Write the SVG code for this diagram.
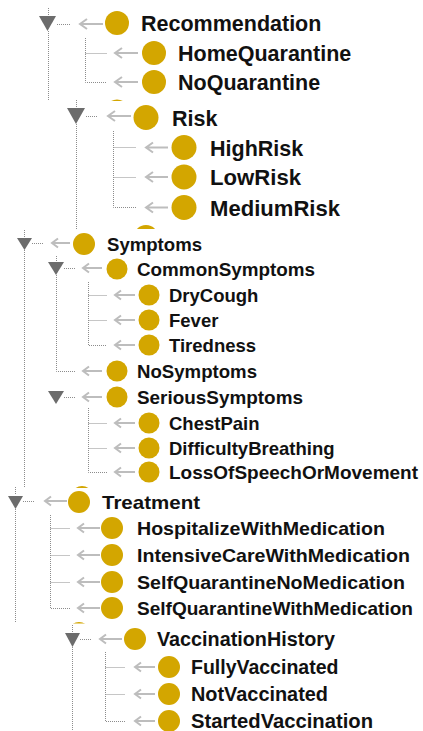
<svg xmlns="http://www.w3.org/2000/svg" width="423" height="731" viewBox="0 0 423 731">
<style>
.dot{stroke:#8c8c8c;stroke-width:1;stroke-dasharray:1 1;fill:none}
.arr{stroke:#bdbdbd;stroke-width:2;fill:none;stroke-linecap:butt}
.ball{fill:#d3a600}
.tri{fill:#6c6c6c}
text{font-family:"Liberation Sans",Arial,sans-serif;font-weight:bold;fill:#111}
.f1{font-size:21.5px}
.f2{font-size:21.5px}
.f3{font-size:18.5px}
.f4{font-size:19px}
.f5{font-size:19.5px}
</style>
<defs>
<clipPath id="c1"><rect x="0" y="0" width="423" height="101"/></clipPath>
<clipPath id="c2"><rect x="0" y="0" width="423" height="229"/></clipPath>
<clipPath id="c3"><rect x="0" y="0" width="423" height="488"/></clipPath>
<clipPath id="c4"><rect x="0" y="0" width="423" height="623.5"/></clipPath>
</defs>
<rect width="423" height="731" fill="#ffffff"/>

<g id="connectors">
<!-- section 1 -->
<path class="dot" d="M48.5,8V15M48.5,31V101M57,24.5H71M85.5,38V82.5H107M85.5,53.5H107"/>
<path class="arr" d="M80,24H103M87,19L80,24L87,29"/>
<path class="arr" d="M115,53H138M122,48L115,53L122,58"/>
<path class="arr" d="M115,82H138M122,77L115,82L122,87"/>
<!-- section 2 -->
<path class="dot" d="M76.5,100V107M76.5,124V229M86,116.5H98M113.5,131V207.5H136M113.5,147.5H136M113.5,177.5H136"/>
<path class="arr" d="M108,116H131M115,111L108,116L115,121"/>
<path class="arr" d="M146,147.5H168M153,142.5L146,147.5L153,152.5"/>
<path class="arr" d="M146,177H168M153,172L146,177L153,182"/>
<path class="arr" d="M146,207.5H168M153,202.5L146,207.5L153,212.5"/>
<!-- section 3 -->
<path class="dot" d="M24.5,230V237M24.5,250V487M32,243.5H43M56.5,256V261M64,268.5H75M56.5,275V371.5H75M88.5,282V345.5H107M88.5,295.5H107M88.5,320.5H107M64,397.5H75M88.5,408V472.5H107M88.5,423.5H107M88.5,448.5H107"/>
<path class="arr" d="M52,243H70M58,238.5L52,243L58,247.5"/>
<path class="arr" d="M83,268H102M89,263.5L83,268L89,272.5"/>
<path class="arr" d="M115,295H135M121,290.5L115,295L121,299.5"/>
<path class="arr" d="M115,320H135M121,315.5L115,320L121,324.5"/>
<path class="arr" d="M115,345H135M121,340.5L115,345L121,349.5"/>
<path class="arr" d="M83,371H102M89,366.5L83,371L89,375.5"/>
<path class="arr" d="M83,397H102M89,392.5L83,397L89,401.5"/>
<path class="arr" d="M115,423H135M121,418.5L115,423L121,427.5"/>
<path class="arr" d="M115,448H135M121,443.5L115,448L121,452.5"/>
<path class="arr" d="M115,472H135M121,467.5L115,472L121,476.5"/>
<!-- section 4 -->
<path class="dot" d="M15.5,487V494M15.5,509V623M23,501.5H35M50.5,515V608.5H70M50.5,528.5H70M50.5,555.5H70M50.5,582.5H70"/>
<path class="arr" d="M45,501H67M51,496.5L45,501L51,505.5"/>
<path class="arr" d="M78,528H100M84,523.5L78,528L84,532.5"/>
<path class="arr" d="M78,555H100M84,550.5L78,555L84,559.5"/>
<path class="arr" d="M78,582H100M84,577.5L78,582L84,586.5"/>
<path class="arr" d="M78,608H100M84,603.5L78,608L84,612.5"/>
<!-- section 5 -->
<path class="dot" d="M72.5,625V632M72.5,647V731M80,639.5H91M105.5,652V721.5H125M105.5,667.5H125M105.5,694.5H125"/>
<path class="arr" d="M100,639H122M106,634.5L100,639L106,643.5"/>
<path class="arr" d="M135,667H155M141,662.5L135,667L141,671.5"/>
<path class="arr" d="M135,694H155M141,689.5L135,694L141,698.5"/>
<path class="arr" d="M135,721H155M141,716.5L135,721L141,725.5"/>
</g>

<g id="Recommendation"><polygon class="tri" points="39,16 56,16 47.5,31"/><circle class="ball" cx="117" cy="23" r="12"/><text class="f1" x="141" y="31">Recommendation</text></g>
<g id="HomeQuarantine"><circle class="ball" cx="154" cy="53" r="12"/><text class="f1" x="178" y="61">HomeQuarantine</text></g>
<g id="NoQuarantine"><circle class="ball" cx="154" cy="82" r="12"/><text class="f1" x="178" y="90">NoQuarantine</text></g>
<g id="cut1" clip-path="url(#c1)"><circle class="ball" cx="117" cy="111.5" r="12"/></g>

<g id="Risk"><polygon class="tri" points="67,108 85,108 76,124"/><circle class="ball" cx="146" cy="117.5" r="12.5"/><text class="f2" x="172" y="125.5">Risk</text></g>
<g id="HighRisk"><circle class="ball" cx="184" cy="147.5" r="12.5"/><text class="f2" x="210" y="155.5">HighRisk</text></g>
<g id="LowRisk"><circle class="ball" cx="184" cy="177" r="12.5"/><text class="f2" x="210" y="185" textLength="91" lengthAdjust="spacingAndGlyphs">LowRisk</text></g>
<g id="MediumRisk"><circle class="ball" cx="184" cy="207.5" r="12.5"/><text class="f2" x="210" y="215.5" textLength="130" lengthAdjust="spacingAndGlyphs">MediumRisk</text></g>
<g id="cut2" clip-path="url(#c2)"><circle class="ball" cx="146" cy="237.5" r="12.5"/></g>

<g id="Symptoms"><polygon class="tri" points="17,238 32,238 24.5,250"/><circle class="ball" cx="84" cy="244" r="11"/><text class="f3" x="107" y="251" textLength="95" lengthAdjust="spacingAndGlyphs">Symptoms</text></g>
<g id="CommonSymptoms"><polygon class="tri" points="48,262 64,262 56,275"/><circle class="ball" cx="117" cy="269" r="10.5"/><text class="f3" x="137" y="276" textLength="178" lengthAdjust="spacingAndGlyphs">CommonSymptoms</text></g>
<g id="DryCough"><circle class="ball" cx="149" cy="295" r="10.5"/><text class="f3" x="169" y="302">DryCough</text></g>
<g id="Fever"><circle class="ball" cx="149" cy="320" r="10.5"/><text class="f3" x="169" y="327">Fever</text></g>
<g id="Tiredness"><circle class="ball" cx="149" cy="345" r="10.5"/><text class="f3" x="169" y="352">Tiredness</text></g>
<g id="NoSymptoms"><circle class="ball" cx="117" cy="371" r="10.5"/><text class="f3" x="137" y="378" textLength="120" lengthAdjust="spacingAndGlyphs">NoSymptoms</text></g>
<g id="SeriousSymptoms"><polygon class="tri" points="48,391 64,391 56,404"/><circle class="ball" cx="117" cy="397" r="10.5"/><text class="f3" x="137" y="404" textLength="166" lengthAdjust="spacingAndGlyphs">SeriousSymptoms</text></g>
<g id="ChestPain"><circle class="ball" cx="149" cy="423" r="10.5"/><text class="f3" x="169" y="430">ChestPain</text></g>
<g id="DifficultyBreathing"><circle class="ball" cx="149" cy="448" r="10.5"/><text class="f3" x="169" y="455">DifficultyBreathing</text></g>
<g id="LossOfSpeechOrMovement"><circle class="ball" cx="149" cy="472" r="10.5"/><text class="f3" x="169" y="479" textLength="249" lengthAdjust="spacingAndGlyphs">LossOfSpeechOrMovement</text></g>
<g id="cut3" clip-path="url(#c3)"><circle class="ball" cx="82" cy="497" r="11"/></g>

<g id="Treatment"><polygon class="tri" points="8,496 23,496 15.5,509"/><circle class="ball" cx="79" cy="502" r="11"/><text class="f4" x="102" y="509" textLength="98" lengthAdjust="spacingAndGlyphs">Treatment</text></g>
<g id="HospitalizeWithMedication"><circle class="ball" cx="112" cy="528" r="11"/><text class="f4" x="137" y="535" textLength="248" lengthAdjust="spacingAndGlyphs">HospitalizeWithMedication</text></g>
<g id="IntensiveCareWithMedication"><circle class="ball" cx="112" cy="555" r="11"/><text class="f4" x="137" y="562" textLength="273" lengthAdjust="spacingAndGlyphs">IntensiveCareWithMedication</text></g>
<g id="SelfQuarantineNoMedication"><circle class="ball" cx="112" cy="582" r="11"/><text class="f4" x="137" y="589" textLength="268" lengthAdjust="spacingAndGlyphs">SelfQuarantineNoMedication</text></g>
<g id="SelfQuarantineWithMedication"><circle class="ball" cx="112" cy="608" r="11"/><text class="f4" x="137" y="615" textLength="276" lengthAdjust="spacingAndGlyphs">SelfQuarantineWithMedication</text></g>
<g id="cut4" clip-path="url(#c4)"><circle class="ball" cx="79" cy="633" r="11"/></g>

<g id="VaccinationHistory"><polygon class="tri" points="65,633 80,633 72.5,647"/><circle class="ball" cx="135" cy="639" r="11"/><text class="f5" x="157" y="646" textLength="178" lengthAdjust="spacingAndGlyphs">VaccinationHistory</text></g>
<g id="FullyVaccinated"><circle class="ball" cx="169" cy="667" r="11"/><text class="f5" x="191" y="674">FullyVaccinated</text></g>
<g id="NotVaccinated"><circle class="ball" cx="169" cy="694" r="11"/><text class="f5" x="191" y="701" textLength="137" lengthAdjust="spacingAndGlyphs">NotVaccinated</text></g>
<g id="StartedVaccination"><circle class="ball" cx="169" cy="721" r="11"/><text class="f5" x="191" y="728" textLength="182" lengthAdjust="spacingAndGlyphs">StartedVaccination</text></g>
</svg>
